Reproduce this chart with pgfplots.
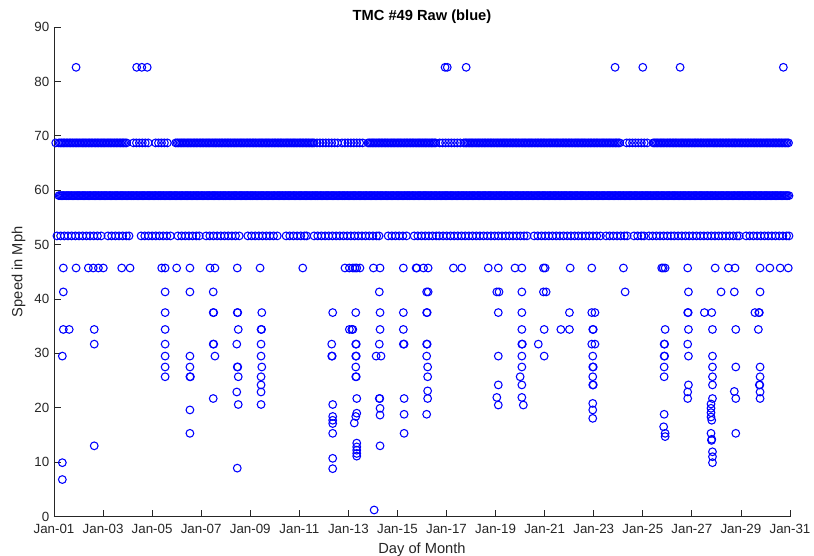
\documentclass[border=0pt]{standalone}
\usepackage{pgfplots}
\pgfplotsset{compat=1.18}
\usepackage{fontspec}
\setmainfont{Liberation Sans}
\definecolor{axgray}{rgb}{0.15,0.15,0.15}
\pgfplotsset{pt/.style={only marks, mark=o, mark size=2.9pt, color=blue, mark options={line width=0.8pt}}}
\begin{document}
\begin{tikzpicture}
\path[use as bounding box] (-40.5pt,-28.9pt) rectangle (570pt,387.4pt);
\begin{axis}[
  at={(0,0)}, anchor=south west,
  scale only axis, width=552pt, height=367.1pt,
  xmin=1, xmax=31, ymin=0, ymax=90,
  axis x line*=bottom, axis y line*=left,
  axis line style={axgray, line width=0.6pt},
  xtick={1,3,...,31},
  xticklabels={Jan-01,Jan-03,Jan-05,Jan-07,Jan-09,Jan-11,Jan-13,Jan-15,Jan-17,Jan-19,Jan-21,Jan-23,Jan-25,Jan-27,Jan-29,Jan-31},
  ytick={0,10,...,90},
  tick align=inside, major tick length=5pt,
  tick style={axgray, line width=0.6pt},
  /pgf/number format/assume math mode=true,
  ticklabel style={font=\fontsize{10}{12}\selectfont, text=axgray},
  xticklabel style={yshift=-2pt},
  label style={font=\fontsize{11}{13}\selectfont, text=axgray},
  title style={font=\bfseries\fontsize{11}{13}\selectfont, yshift=-7pt},
  title={TMC \#49 Raw (blue)},
  xlabel={Day of Month}, ylabel={Speed in Mph},
  clip=false,
]
% dense 59 mph row
\addplot[pt] coordinates {
(1.2,59)(1.3,59)(1.4,59)(1.5,59)(1.6,59)(1.7,59)(1.8,59)(1.9,59)(2.0,59)(2.1,59)
(2.2,59)(2.3,59)(2.4,59)(2.5,59)(2.6,59)(2.7,59)(2.8,59)(2.9,59)(3.0,59)(3.1,59)
(3.2,59)(3.3,59)(3.4,59)(3.5,59)(3.6,59)(3.7,59)(3.8,59)(3.9,59)(4.0,59)(4.1,59)
(4.2,59)(4.3,59)(4.4,59)(4.5,59)(4.6,59)(4.7,59)(4.8,59)(4.9,59)(5.0,59)(5.1,59)
(5.2,59)(5.3,59)(5.4,59)(5.5,59)(5.6,59)(5.7,59)(5.8,59)(5.9,59)(6.0,59)(6.1,59)
(6.2,59)(6.3,59)(6.4,59)(6.5,59)(6.6,59)(6.7,59)(6.8,59)(6.9,59)(7.0,59)(7.1,59)
(7.2,59)(7.3,59)(7.4,59)(7.5,59)(7.6,59)(7.7,59)(7.8,59)(7.9,59)(8.0,59)(8.1,59)
(8.2,59)(8.3,59)(8.4,59)(8.5,59)(8.6,59)(8.7,59)(8.8,59)(8.9,59)(9.0,59)(9.1,59)
(9.2,59)(9.3,59)(9.4,59)(9.5,59)(9.6,59)(9.7,59)(9.8,59)(9.9,59)(10.0,59)(10.1,59)
(10.2,59)(10.3,59)(10.4,59)(10.5,59)(10.6,59)(10.7,59)(10.8,59)(10.9,59)(11.0,59)(11.1,59)
(11.2,59)(11.3,59)(11.4,59)(11.5,59)(11.6,59)(11.7,59)(11.8,59)(11.9,59)(12.0,59)(12.1,59)
(12.2,59)(12.3,59)(12.4,59)(12.5,59)(12.6,59)(12.7,59)(12.8,59)(12.9,59)(13.0,59)(13.1,59)
(13.2,59)(13.3,59)(13.4,59)(13.5,59)(13.6,59)(13.7,59)(13.8,59)(13.9,59)(14.0,59)(14.1,59)
(14.2,59)(14.3,59)(14.4,59)(14.5,59)(14.6,59)(14.7,59)(14.8,59)(14.9,59)(15.0,59)(15.1,59)
(15.2,59)(15.3,59)(15.4,59)(15.5,59)(15.6,59)(15.7,59)(15.8,59)(15.9,59)(16.0,59)(16.1,59)
(16.2,59)(16.3,59)(16.4,59)(16.5,59)(16.6,59)(16.7,59)(16.8,59)(16.9,59)(17.0,59)(17.1,59)
(17.2,59)(17.3,59)(17.4,59)(17.5,59)(17.6,59)(17.7,59)(17.8,59)(17.9,59)(18.0,59)(18.1,59)
(18.2,59)(18.3,59)(18.4,59)(18.5,59)(18.6,59)(18.7,59)(18.8,59)(18.9,59)(19.0,59)(19.1,59)
(19.2,59)(19.3,59)(19.4,59)(19.5,59)(19.6,59)(19.7,59)(19.8,59)(19.9,59)(20.0,59)(20.1,59)
(20.2,59)(20.3,59)(20.4,59)(20.5,59)(20.6,59)(20.7,59)(20.8,59)(20.9,59)(21.0,59)(21.1,59)
(21.2,59)(21.3,59)(21.4,59)(21.5,59)(21.6,59)(21.7,59)(21.8,59)(21.9,59)(22.0,59)(22.1,59)
(22.2,59)(22.3,59)(22.4,59)(22.5,59)(22.6,59)(22.7,59)(22.8,59)(22.9,59)(23.0,59)(23.1,59)
(23.2,59)(23.3,59)(23.4,59)(23.5,59)(23.6,59)(23.7,59)(23.8,59)(23.9,59)(24.0,59)(24.1,59)
(24.2,59)(24.3,59)(24.4,59)(24.5,59)(24.6,59)(24.7,59)(24.8,59)(24.9,59)(25.0,59)(25.1,59)
(25.2,59)(25.3,59)(25.4,59)(25.5,59)(25.6,59)(25.7,59)(25.8,59)(25.9,59)(26.0,59)(26.1,59)
(26.2,59)(26.3,59)(26.4,59)(26.5,59)(26.6,59)(26.7,59)(26.8,59)(26.9,59)(27.0,59)(27.1,59)
(27.2,59)(27.3,59)(27.4,59)(27.5,59)(27.6,59)(27.7,59)(27.8,59)(27.9,59)(28.0,59)(28.1,59)
(28.2,59)(28.3,59)(28.4,59)(28.5,59)(28.6,59)(28.7,59)(28.8,59)(28.9,59)(29.0,59)(29.1,59)
(29.2,59)(29.3,59)(29.4,59)(29.5,59)(29.6,59)(29.7,59)(29.8,59)(29.9,59)(30.0,59)(30.1,59)
(30.2,59)(30.3,59)(30.4,59)(30.5,59)(30.6,59)(30.7,59)(30.8,59)(30.9,59)(30.96,59)
};
% more 59 mph readings, in between
\addplot[pt] coordinates {
(1.25,59)(1.35,59)(1.45,59)(1.55,59)(1.65,59)(1.75,59)(1.85,59)(1.95,59)(2.05,59)(2.15,59)
(2.25,59)(2.35,59)(2.45,59)(2.55,59)(2.65,59)(2.75,59)(2.85,59)(2.95,59)(3.05,59)(3.15,59)
(3.25,59)(3.35,59)(3.45,59)(3.55,59)(3.65,59)(3.75,59)(3.85,59)(3.95,59)(4.05,59)(4.15,59)
(4.25,59)(4.35,59)(4.45,59)(4.55,59)(4.65,59)(4.75,59)(4.85,59)(4.95,59)(5.05,59)(5.15,59)
(5.25,59)(5.35,59)(5.45,59)(5.55,59)(5.65,59)(5.75,59)(5.85,59)(5.95,59)(6.05,59)(6.15,59)
(6.25,59)(6.35,59)(6.45,59)(6.55,59)(6.65,59)(6.75,59)(6.85,59)(6.95,59)(7.05,59)(7.15,59)
(7.25,59)(7.35,59)(7.45,59)(7.55,59)(7.65,59)(7.75,59)(7.85,59)(7.95,59)(8.05,59)(8.15,59)
(8.25,59)(8.35,59)(8.45,59)(8.55,59)(8.65,59)(8.75,59)(8.85,59)(8.95,59)(9.05,59)(9.15,59)
(9.25,59)(9.35,59)(9.45,59)(9.55,59)(9.65,59)(9.75,59)(9.85,59)(9.95,59)(10.05,59)(10.15,59)
(10.25,59)(10.35,59)(10.45,59)(10.55,59)(10.65,59)(10.75,59)(10.85,59)(10.95,59)(11.05,59)(11.15,59)
(11.25,59)(11.35,59)(11.45,59)(11.55,59)(11.65,59)(11.75,59)(11.85,59)(11.95,59)(12.05,59)(12.15,59)
(12.25,59)(12.35,59)(12.45,59)(12.55,59)(12.65,59)(12.75,59)(12.85,59)(12.95,59)(13.05,59)(13.15,59)
(13.25,59)(13.35,59)(13.45,59)(13.55,59)(13.65,59)(13.75,59)(13.85,59)(13.95,59)(14.05,59)(14.15,59)
(14.25,59)(14.35,59)(14.45,59)(14.55,59)(14.65,59)(14.75,59)(14.85,59)(14.95,59)(15.05,59)(15.15,59)
(15.25,59)(15.35,59)(15.45,59)(15.55,59)(15.65,59)(15.75,59)(15.85,59)(15.95,59)(16.05,59)(16.15,59)
(16.25,59)(16.35,59)(16.45,59)(16.55,59)(16.65,59)(16.75,59)(16.85,59)(16.95,59)(17.05,59)(17.15,59)
(17.25,59)(17.35,59)(17.45,59)(17.55,59)(17.65,59)(17.75,59)(17.85,59)(17.95,59)(18.05,59)(18.15,59)
(18.25,59)(18.35,59)(18.45,59)(18.55,59)(18.65,59)(18.75,59)(18.85,59)(18.95,59)(19.05,59)(19.15,59)
(19.25,59)(19.35,59)(19.45,59)(19.55,59)(19.65,59)(19.75,59)(19.85,59)(19.95,59)(20.05,59)(20.15,59)
(20.25,59)(20.35,59)(20.45,59)(20.55,59)(20.65,59)(20.75,59)(20.85,59)(20.95,59)(21.05,59)(21.15,59)
(21.25,59)(21.35,59)(21.45,59)(21.55,59)(21.65,59)(21.75,59)(21.85,59)(21.95,59)(22.05,59)(22.15,59)
(22.25,59)(22.35,59)(22.45,59)(22.55,59)(22.65,59)(22.75,59)(22.85,59)(22.95,59)(23.05,59)(23.15,59)
(23.25,59)(23.35,59)(23.45,59)(23.55,59)(23.65,59)(23.75,59)(23.85,59)(23.95,59)(24.05,59)(24.15,59)
(24.25,59)(24.35,59)(24.45,59)(24.55,59)(24.65,59)(24.75,59)(24.85,59)(24.95,59)(25.05,59)(25.15,59)
(25.25,59)(25.35,59)(25.45,59)(25.55,59)(25.65,59)(25.75,59)(25.85,59)(25.95,59)(26.05,59)(26.15,59)
(26.25,59)(26.35,59)(26.45,59)(26.55,59)(26.65,59)(26.75,59)(26.85,59)(26.95,59)(27.05,59)(27.15,59)
(27.25,59)(27.35,59)(27.45,59)(27.55,59)(27.65,59)(27.75,59)(27.85,59)(27.95,59)(28.05,59)(28.15,59)
(28.25,59)(28.35,59)(28.45,59)(28.55,59)(28.65,59)(28.75,59)(28.85,59)(28.95,59)(29.05,59)(29.15,59)
(29.25,59)(29.35,59)(29.45,59)(29.55,59)(29.65,59)(29.75,59)(29.85,59)(29.95,59)(30.05,59)(30.15,59)
(30.25,59)(30.35,59)(30.45,59)(30.55,59)(30.65,59)(30.75,59)(30.85,59)
};
% 68.7 mph row
\addplot[pt] coordinates {
(1.07,68.7)
(1.2,68.7)(1.32,68.7)(1.44,68.7)(1.56,68.7)(1.68,68.7)(1.8,68.7)(1.92,68.7)(2.04,68.7)(2.16,68.7)(2.28,68.7)
(2.4,68.7)(2.52,68.7)(2.64,68.7)(2.76,68.7)(2.88,68.7)(3.0,68.7)(3.12,68.7)(3.24,68.7)(3.36,68.7)(3.48,68.7)
(3.6,68.7)(3.72,68.7)(3.84,68.7)(3.96,68.7)
(4.24,68.7)(4.36,68.7)(4.48,68.7)(4.6,68.7)(4.72,68.7)(4.84,68.7)
(5.14,68.7)(5.26,68.7)(5.38,68.7)(5.5,68.7)(5.62,68.7)
(5.96,68.7)(6.08,68.7)(6.2,68.7)(6.32,68.7)(6.44,68.7)(6.56,68.7)(6.68,68.7)(6.8,68.7)(6.92,68.7)(7.04,68.7)
(7.16,68.7)(7.28,68.7)(7.4,68.7)(7.52,68.7)(7.64,68.7)(7.76,68.7)(7.88,68.7)(8.0,68.7)(8.12,68.7)(8.24,68.7)
(8.36,68.7)(8.48,68.7)(8.6,68.7)(8.72,68.7)(8.84,68.7)(8.96,68.7)(9.08,68.7)(9.2,68.7)(9.32,68.7)(9.44,68.7)
(9.56,68.7)(9.68,68.7)(9.8,68.7)(9.92,68.7)(10.04,68.7)(10.16,68.7)(10.28,68.7)(10.4,68.7)(10.52,68.7)(10.64,68.7)
(10.76,68.7)(10.88,68.7)(11.0,68.7)(11.12,68.7)(11.24,68.7)(11.36,68.7)(11.48,68.7)(11.6,68.7)
(11.72,68.7)(11.84,68.7)(11.96,68.7)(12.08,68.7)(12.2,68.7)(12.32,68.7)(12.44,68.7)(12.56,68.7)
(12.74,68.7)(12.86,68.7)(12.98,68.7)(13.1,68.7)(13.22,68.7)(13.34,68.7)(13.46,68.7)(13.58,68.7)
(13.8,68.7)(13.92,68.7)(14.04,68.7)(14.16,68.7)(14.28,68.7)(14.4,68.7)(14.52,68.7)(14.64,68.7)(14.76,68.7)(14.88,68.7)
(15.0,68.7)(15.12,68.7)(15.24,68.7)(15.36,68.7)(15.48,68.7)(15.6,68.7)(15.72,68.7)(15.84,68.7)(15.96,68.7)(16.08,68.7)
(16.2,68.7)(16.32,68.7)(16.44,68.7)(16.56,68.7)
(16.72,68.7)(16.84,68.7)(16.96,68.7)(17.08,68.7)(17.2,68.7)(17.32,68.7)(17.44,68.7)(17.56,68.7)
(17.7,68.7)(17.82,68.7)(17.94,68.7)(18.06,68.7)(18.18,68.7)(18.3,68.7)(18.42,68.7)(18.54,68.7)(18.66,68.7)(18.78,68.7)
(18.9,68.7)(19.02,68.7)(19.14,68.7)(19.26,68.7)(19.38,68.7)(19.5,68.7)(19.62,68.7)(19.74,68.7)(19.86,68.7)(19.98,68.7)
(20.1,68.7)(20.22,68.7)(20.34,68.7)(20.46,68.7)(20.58,68.7)(20.7,68.7)(20.82,68.7)(20.94,68.7)(21.06,68.7)(21.18,68.7)
(21.3,68.7)(21.42,68.7)(21.54,68.7)(21.66,68.7)(21.78,68.7)(21.9,68.7)(22.02,68.7)(22.14,68.7)(22.26,68.7)(22.38,68.7)
(22.5,68.7)(22.62,68.7)(22.74,68.7)(22.86,68.7)(22.98,68.7)(23.1,68.7)(23.22,68.7)(23.34,68.7)(23.46,68.7)(23.58,68.7)
(23.7,68.7)(23.82,68.7)(23.94,68.7)(24.06,68.7)
(24.34,68.7)(24.46,68.7)(24.58,68.7)(24.7,68.7)(24.82,68.7)(24.94,68.7)(25.06,68.7)(25.18,68.7)
(25.42,68.7)(25.54,68.7)(25.66,68.7)(25.78,68.7)(25.9,68.7)(26.02,68.7)(26.14,68.7)(26.26,68.7)(26.38,68.7)(26.5,68.7)
(26.62,68.7)(26.74,68.7)(26.86,68.7)(26.98,68.7)(27.1,68.7)(27.22,68.7)(27.34,68.7)(27.46,68.7)(27.58,68.7)(27.7,68.7)
(27.82,68.7)(27.94,68.7)(28.06,68.7)(28.18,68.7)(28.3,68.7)(28.42,68.7)(28.54,68.7)(28.66,68.7)(28.78,68.7)(28.9,68.7)
(29.02,68.7)(29.14,68.7)(29.26,68.7)(29.38,68.7)(29.5,68.7)(29.62,68.7)(29.74,68.7)(29.86,68.7)(29.98,68.7)(30.1,68.7)
(30.22,68.7)(30.34,68.7)(30.46,68.7)(30.58,68.7)(30.7,68.7)(30.82,68.7)(30.94,68.7)
};
% more 68.7 mph readings, in between
\addplot[pt] coordinates {
(1.26,68.7)(1.38,68.7)(1.5,68.7)(1.62,68.7)(1.74,68.7)(1.86,68.7)(1.98,68.7)(2.1,68.7)(2.22,68.7)(2.34,68.7)
(2.46,68.7)(2.58,68.7)(2.7,68.7)(2.82,68.7)(2.94,68.7)(3.06,68.7)(3.18,68.7)(3.3,68.7)(3.42,68.7)(3.54,68.7)
(3.66,68.7)(3.78,68.7)(3.9,68.7)
(6.02,68.7)(6.14,68.7)(6.26,68.7)(6.38,68.7)(6.5,68.7)(6.62,68.7)(6.74,68.7)(6.86,68.7)(6.98,68.7)(7.1,68.7)
(7.22,68.7)(7.34,68.7)(7.46,68.7)(7.58,68.7)(7.7,68.7)(7.82,68.7)(7.94,68.7)(8.06,68.7)(8.18,68.7)(8.3,68.7)
(8.42,68.7)(8.54,68.7)(8.66,68.7)(8.78,68.7)(8.9,68.7)(9.02,68.7)(9.14,68.7)(9.26,68.7)(9.38,68.7)(9.5,68.7)
(9.62,68.7)(9.74,68.7)(9.86,68.7)(9.98,68.7)(10.1,68.7)(10.22,68.7)(10.34,68.7)(10.46,68.7)(10.58,68.7)(10.7,68.7)
(10.82,68.7)(10.94,68.7)(11.06,68.7)(11.18,68.7)(11.3,68.7)(11.42,68.7)(11.54,68.7)
(13.86,68.7)(13.98,68.7)(14.1,68.7)(14.22,68.7)(14.34,68.7)(14.46,68.7)(14.58,68.7)(14.7,68.7)(14.82,68.7)(14.94,68.7)
(15.06,68.7)(15.18,68.7)(15.3,68.7)(15.42,68.7)(15.54,68.7)(15.66,68.7)(15.78,68.7)(15.9,68.7)(16.02,68.7)(16.14,68.7)
(16.26,68.7)(16.38,68.7)(16.5,68.7)
(17.76,68.7)(17.88,68.7)(18.0,68.7)(18.12,68.7)(18.24,68.7)(18.36,68.7)(18.48,68.7)(18.6,68.7)(18.72,68.7)(18.84,68.7)
(18.96,68.7)(19.08,68.7)(19.2,68.7)(19.32,68.7)(19.44,68.7)(19.56,68.7)(19.68,68.7)(19.8,68.7)(19.92,68.7)(20.04,68.7)
(20.16,68.7)(20.28,68.7)(20.4,68.7)(20.52,68.7)(20.64,68.7)(20.76,68.7)(20.88,68.7)(21.0,68.7)(21.12,68.7)(21.24,68.7)
(21.36,68.7)(21.48,68.7)(21.6,68.7)(21.72,68.7)(21.84,68.7)(21.96,68.7)(22.08,68.7)(22.2,68.7)(22.32,68.7)(22.44,68.7)
(22.56,68.7)(22.68,68.7)(22.8,68.7)(22.92,68.7)(23.04,68.7)(23.16,68.7)(23.28,68.7)(23.4,68.7)(23.52,68.7)(23.64,68.7)
(23.76,68.7)(23.88,68.7)(24.0,68.7)
(25.48,68.7)(25.6,68.7)(25.72,68.7)(25.84,68.7)(25.96,68.7)(26.08,68.7)(26.2,68.7)(26.32,68.7)(26.44,68.7)(26.56,68.7)
(26.68,68.7)(26.8,68.7)(26.92,68.7)(27.04,68.7)(27.16,68.7)(27.28,68.7)(27.4,68.7)(27.52,68.7)(27.64,68.7)(27.76,68.7)
(27.88,68.7)(28.0,68.7)(28.12,68.7)(28.24,68.7)(28.36,68.7)(28.48,68.7)(28.6,68.7)(28.72,68.7)(28.84,68.7)(28.96,68.7)
(29.08,68.7)(29.2,68.7)(29.32,68.7)(29.44,68.7)(29.56,68.7)(29.68,68.7)(29.8,68.7)(29.92,68.7)(30.04,68.7)(30.16,68.7)
(30.28,68.7)(30.4,68.7)(30.52,68.7)(30.64,68.7)(30.76,68.7)(30.88,68.7)
};
% 51.6 mph row
\addplot[pt] coordinates {
(1.12,51.6)(1.27,51.6)(1.42,51.6)(1.57,51.6)(1.72,51.6)(1.87,51.6)(2.02,51.6)(2.17,51.6)(2.32,51.6)(2.47,51.6)(2.62,51.6)(2.77,51.6)(2.92,51.6)
(3.2,51.6)(3.35,51.6)(3.5,51.6)(3.65,51.6)(3.8,51.6)(3.95,51.6)(4.06,51.6)
(4.55,51.6)(4.7,51.6)(4.85,51.6)(5.0,51.6)(5.15,51.6)(5.3,51.6)(5.45,51.6)(5.6,51.6)(5.75,51.6)
(6.05,51.6)(6.2,51.6)(6.35,51.6)(6.5,51.6)(6.65,51.6)(6.8,51.6)(6.92,51.6)
(7.2,51.6)(7.35,51.6)(7.5,51.6)(7.65,51.6)(7.8,51.6)(7.95,51.6)(8.1,51.6)(8.25,51.6)(8.4,51.6)(8.55,51.6)
(8.9,51.6)(9.05,51.6)(9.2,51.6)(9.35,51.6)(9.5,51.6)(9.65,51.6)(9.8,51.6)(9.95,51.6)(10.1,51.6)
(10.46,51.6)(10.61,51.6)(10.76,51.6)(10.91,51.6)(11.06,51.6)(11.21,51.6)(11.3,51.6)
(11.6,51.6)(11.75,51.6)(11.9,51.6)(12.05,51.6)(12.2,51.6)(12.35,51.6)(12.5,51.6)(12.65,51.6)(12.8,51.6)(12.95,51.6)
(13.1,51.6)(13.25,51.6)(13.4,51.6)(13.55,51.6)(13.7,51.6)(13.85,51.6)(14.0,51.6)(14.15,51.6)(14.25,51.6)
(14.62,51.6)(14.77,51.6)(14.92,51.6)(15.07,51.6)(15.22,51.6)(15.37,51.6)
(15.68,51.6)(15.83,51.6)(15.98,51.6)(16.13,51.6)(16.28,51.6)(16.43,51.6)(16.58,51.6)(16.7,51.6)
(16.86,51.6)(17.01,51.6)(17.16,51.6)(17.31,51.6)(17.46,51.6)(17.61,51.6)(17.76,51.6)(17.91,51.6)(18.06,51.6)(18.21,51.6)
(18.36,51.6)(18.51,51.6)(18.66,51.6)(18.81,51.6)(18.96,51.6)(19.11,51.6)(19.26,51.6)(19.41,51.6)(19.56,51.6)(19.71,51.6)
(19.86,51.6)(20.01,51.6)(20.16,51.6)(20.28,51.6)
(20.57,51.6)(20.72,51.6)(20.87,51.6)(21.02,51.6)(21.17,51.6)(21.32,51.6)(21.47,51.6)(21.62,51.6)(21.77,51.6)(21.92,51.6)
(22.07,51.6)(22.22,51.6)(22.37,51.6)(22.52,51.6)(22.67,51.6)(22.82,51.6)(22.97,51.6)(23.12,51.6)(23.27,51.6)
(23.5,51.6)(23.65,51.6)(23.8,51.6)(23.95,51.6)(24.1,51.6)(24.25,51.6)(24.36,51.6)
(24.64,51.6)(24.79,51.6)(24.94,51.6)(25.05,51.6)
(25.25,51.6)(25.4,51.6)(25.55,51.6)(25.7,51.6)(25.85,51.6)(26.0,51.6)(26.15,51.6)(26.28,51.6)
(26.44,51.6)(26.59,51.6)(26.74,51.6)(26.89,51.6)(27.04,51.6)(27.19,51.6)(27.34,51.6)(27.49,51.6)(27.64,51.6)(27.79,51.6)
(27.94,51.6)(28.09,51.6)(28.24,51.6)(28.39,51.6)(28.54,51.6)(28.69,51.6)(28.84,51.6)(28.93,51.6)
(29.21,51.6)(29.36,51.6)(29.51,51.6)(29.66,51.6)(29.81,51.6)(29.96,51.6)(30.11,51.6)(30.26,51.6)(30.41,51.6)(30.56,51.6)
(30.71,51.6)(30.86,51.6)(30.96,51.6)
};
% scattered readings
\addplot[pt] coordinates {
(1.90,82.6)(4.37,82.6)(4.58,82.6)(4.80,82.6)(16.94,82.6)(17.03,82.6)(17.80,82.6)(23.87,82.6)(25.00,82.6)(26.52,82.6)(30.73,82.6)
(1.38,45.7)(1.90,45.7)(2.40,45.7)(2.60,45.7)(2.81,45.7)(3.01,45.7)(3.76,45.7)(4.10,45.7)(5.39,45.7)(5.53,45.7)
(6.00,45.7)(6.54,45.7)(7.36,45.7)(7.56,45.7)(8.47,45.7)(9.40,45.7)(11.14,45.7)(12.86,45.7)(13.04,45.7)(13.18,45.7)
(13.27,45.7)(13.34,45.7)(13.47,45.7)(14.02,45.7)(14.29,45.7)(15.24,45.7)(15.76,45.7)(15.79,45.7)(16.06,45.7)(16.25,45.7)
(17.28,45.7)(17.62,45.7)(18.70,45.7)(19.11,45.7)(19.79,45.7)(20.07,45.7)(20.95,45.7)(21.02,45.7)(22.04,45.7)(22.92,45.7)
(24.21,45.7)(25.77,45.7)(25.83,45.7)(25.91,45.7)(26.83,45.7)(27.95,45.7)(28.49,45.7)(28.76,45.7)(29.78,45.7)(30.18,45.7)
(30.60,45.7)(30.93,45.7)
(1.38,41.3)(5.53,41.3)(6.54,41.3)(7.49,41.3)(14.26,41.3)(16.19,41.3)(16.25,41.3)(19.05,41.3)(19.14,41.3)(20.07,41.3)
(20.95,41.3)(21.06,41.3)(24.28,41.3)(26.86,41.3)(28.19,41.3)(28.73,41.3)(29.78,41.3)
(1.38,34.4)(1.62,34.4)(1.34,29.5)(1.34,9.9)(1.34,6.8)
(2.64,34.4)(2.64,31.7)(2.64,13.0)
(5.53,37.5)(5.53,34.4)(5.53,31.7)(5.53,29.5)(5.53,27.5)(5.53,25.7)
(6.54,29.5)(6.54,27.5)(6.54,25.7)(6.56,25.7)(6.54,19.6)(6.54,15.3)
(7.49,37.5)(7.51,37.5)(7.49,31.7)(7.51,31.7)(7.56,29.5)(7.49,21.7)
(8.47,37.5)(8.49,37.5)(8.51,34.4)(8.45,31.7)(8.47,27.5)(8.49,27.5)(8.51,25.7)(8.45,22.9)(8.51,20.6)(8.47,8.9)
(9.47,37.5)(9.44,34.4)(9.46,34.4)(9.44,31.7)(9.44,29.5)(9.47,27.5)(9.44,25.7)(9.44,24.2)(9.44,22.9)(9.44,20.6)
(12.36,37.5)(12.32,31.7)(12.32,29.5)(12.34,29.5)(12.36,20.6)(12.36,18.4)(12.36,17.7)(12.36,17.1)(12.36,15.3)(12.36,10.7)(12.36,8.8)
(13.04,34.4)(13.18,34.4)(13.14,34.4)(13.30,37.5)(13.30,31.7)(13.32,31.7)(13.30,29.5)(13.32,29.5)(13.30,27.5)(13.30,25.7)
(13.32,25.7)(13.34,21.7)(13.34,19.0)(13.30,18.4)(13.24,17.2)(13.34,13.5)(13.34,12.8)(13.34,12.2)(13.34,11.6)(13.34,11.1)
(14.29,37.5)(14.29,34.4)(14.26,31.7)(14.13,29.5)(14.33,29.5)(14.26,21.7)(14.28,21.7)(14.29,19.9)(14.29,18.65)(14.29,13.0)(14.05,1.2)
(15.24,37.5)(15.24,34.4)(15.24,31.7)(15.27,31.7)(15.27,21.7)(15.27,18.8)(15.27,15.3)
(16.19,37.5)(16.21,37.5)(16.19,31.7)(16.21,31.7)(16.19,29.5)(16.23,27.5)(16.23,25.7)(16.23,23.1)(16.23,21.7)(16.19,18.8)
(19.11,37.5)(19.11,29.5)(19.11,24.2)(19.05,21.9)(19.11,20.5)
(20.07,37.5)(20.07,34.4)(20.07,31.7)(20.09,31.7)(20.07,29.5)(20.07,27.5)(20.00,25.7)(20.07,24.2)(20.07,21.9)(20.13,20.5)
(20.74,31.7)(20.98,34.4)(20.98,29.5)
(21.66,34.4)(22.01,37.5)(22.01,34.4)
(22.92,37.5)(23.05,37.5)(22.96,34.4)(22.98,34.4)(22.92,31.7)(23.05,31.7)(22.96,29.5)(22.96,27.5)(22.98,27.5)(22.96,25.7)
(22.96,24.2)(22.98,24.2)(22.96,20.8)(22.96,19.6)(22.96,18.05)
(25.91,34.4)(25.87,31.7)(25.89,31.7)(25.87,29.5)(25.89,29.5)(25.87,27.5)(25.87,25.7)(25.87,18.8)(25.85,16.5)(25.91,15.3)(25.91,14.7)
(26.83,37.5)(26.85,37.5)(26.86,34.4)(26.83,31.7)(26.86,29.5)(26.86,24.2)(26.83,22.9)(26.83,21.7)
(27.51,37.5)(27.81,37.5)(27.84,34.4)(27.84,29.5)(27.84,27.5)(27.84,25.7)(27.84,24.2)(27.84,21.7)(27.78,20.7)(27.78,19.9)
(27.78,19.1)(27.78,18.3)(27.81,17.7)(27.78,15.3)(27.81,14.2)(27.80,14.0)(27.84,11.9)(27.84,11.0)(27.84,9.9)
(28.79,34.4)(28.79,27.5)(28.73,23.0)(28.79,21.7)(28.79,15.3)
(29.57,37.5)(29.75,37.5)(29.73,37.5)(29.71,34.4)(29.78,27.5)(29.78,25.7)(29.75,24.2)(29.77,24.2)(29.78,22.9)(29.78,21.7)
};
\end{axis}
\end{tikzpicture}
\end{document}
